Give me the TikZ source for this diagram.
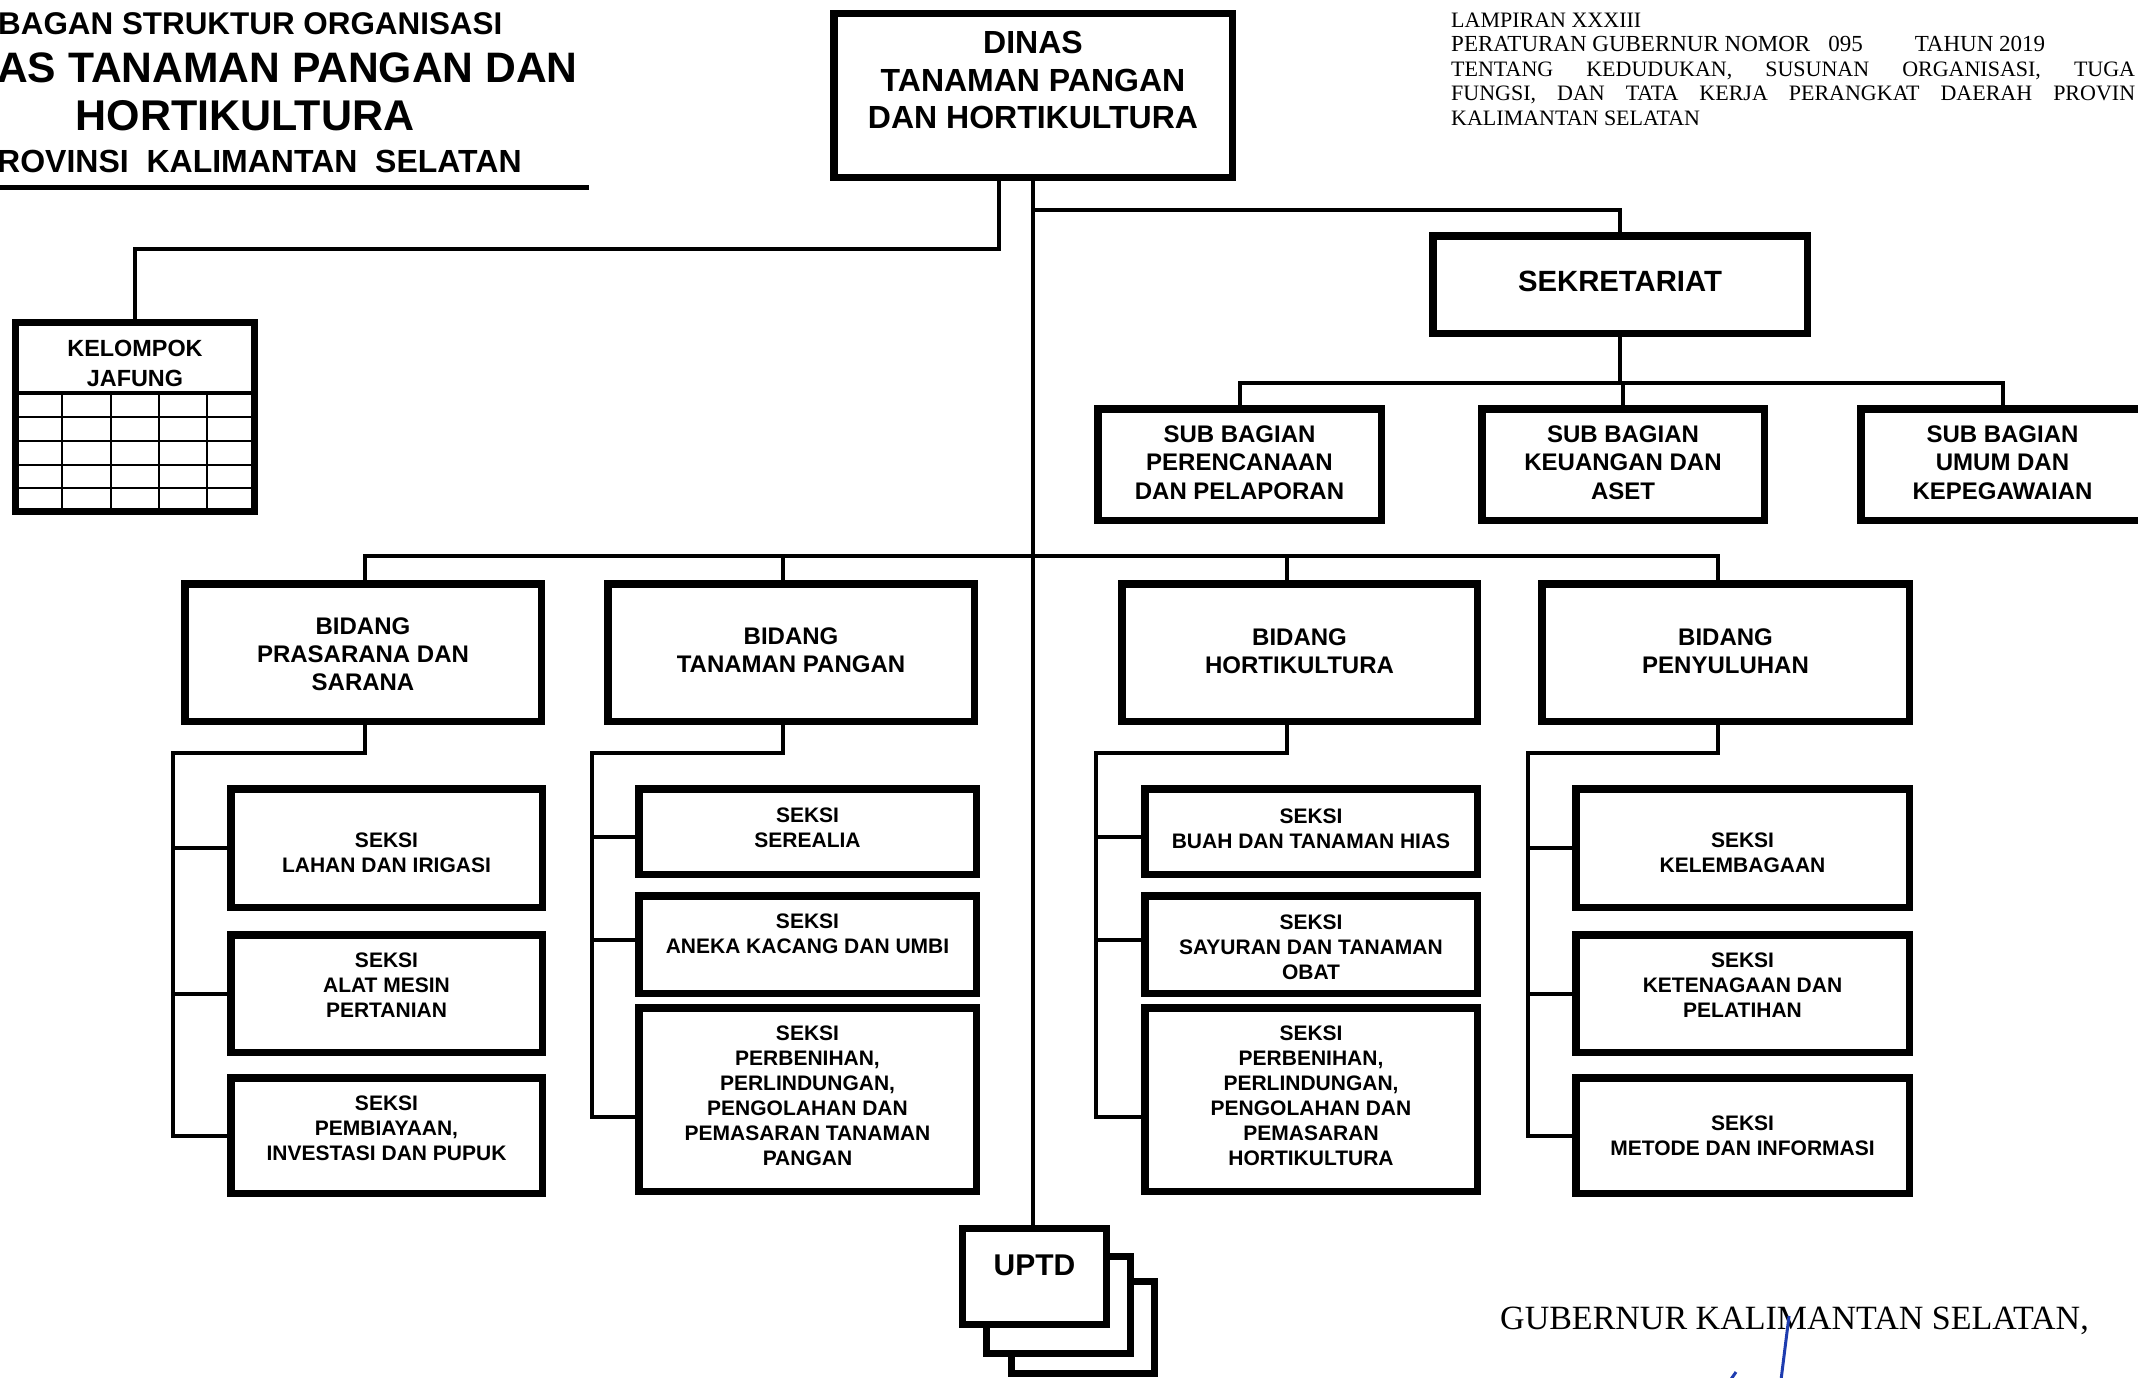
\documentclass[tikz,border=0pt]{standalone}
\usepackage{fontspec}
\setmainfont{Liberation Sans}
\newfontfamily\lampserif{Liberation Serif}
% #1 style, #2 name, #3 x1, #4 y1, #5 x2, #6 y2, #7 text, #8 text shift (down)
\newcommand{\orgbox}[8][]{%
  \pgfmathsetmacro\obcx{(#3+#5)/2}%
  \pgfmathsetmacro\obcy{(#4+#6)/2}%
  \pgfmathsetmacro\obty{(#4+#6)/2+#8}%
  \pgfmathsetmacro\obw{#5-#3-7.5}%
  \pgfmathsetmacro\obh{#6-#4-7.5}%
  \node[orgbox,#1,minimum width=\obw pt,minimum height=\obh pt] (#2) at (\obcx,\obcy) {};
  \node[boxtext,#1] (#2-t) at (\obcx,\obty) {#7};}
\begin{document}
\begin{tikzpicture}[x=1pt,y=-1pt,
  orgbox/.style={draw, line width=7.5pt, fill=white, inner sep=0pt},
  boxtext/.style={inner sep=0pt, align=center, font=\bfseries\fontsize{21}{25}\selectfont},
  bidang/.style={font=\bfseries\fontsize{24}{28}\selectfont},
  subbag/.style={font=\bfseries\fontsize{24}{28.5}\selectfont},
  sekrfont/.style={font=\bfseries\fontsize{29.3}{34}\selectfont},
  conn/.style={line width=4pt, line join=miter},
  grid/.style={line width=2pt},
  lamp/.style={inner sep=0pt, anchor=base west, font=\lampserif\fontsize{22}{25}\selectfont},
]
\useasboundingbox (0,0) rectangle (2138,1378);
\clip (0,0) rectangle (2138,1378);

% ---------- title ----------
\node[inner sep=0pt, anchor=base west, font=\bfseries\fontsize{31.4}{36}\selectfont] (t1) at (-2,35) {BAGAN STRUKTUR ORGANISASI};
\node[inner sep=0pt, anchor=base west, font=\bfseries\fontsize{42.6}{48}\selectfont] (t2) at (-3,83) {AS TANAMAN PANGAN DAN};
\node[inner sep=0pt, anchor=base, font=\bfseries\fontsize{43}{48}\selectfont] (t3) at (245,131) {HORTIKULTURA};
\node[inner sep=0pt, anchor=base west, font=\bfseries\fontsize{32}{36}\selectfont] (t4) at (-3,172) {ROVINSI\ \ KALIMANTAN\ \ SELATAN};
\draw[line width=5pt] (0,187) -- (589,187);

% ---------- lampiran text ----------
\node[lamp] (l1) at (1451,27.5) {LAMPIRAN XXXIII};
\node[lamp, font=\lampserif\fontsize{23}{25}\selectfont] (l2) at (1451,52) {PERATURAN GUBERNUR NOMOR\hspace{18pt}095\hspace{52pt}TAHUN 2019};
\node[lamp] (l3) at (1451,76.5) {\makebox[684pt][s]{TENTANG KEDUDUKAN, SUSUNAN ORGANISASI, TUGA}};
\node[lamp] (l4) at (1451,101) {\makebox[684pt][s]{FUNGSI, DAN TATA KERJA PERANGKAT DAERAH PROVIN}};
\node[lamp] (l5) at (1451,125.5) {KALIMANTAN SELATAN};
\node[lamp, font=\lampserif\fontsize{34}{38}\selectfont] (gub) at (1500,1329) {GUBERNUR KALIMANTAN SELATAN,};
\draw[line width=3pt, color={rgb,255:red,30;green,60;blue,175}] (1789,1316) -- (1781,1380);
\draw[line width=3pt, color={rgb,255:red,30;green,60;blue,175}] (1729,1382) -- (1736,1372);

% ---------- boxes ----------
\orgbox[font=\bfseries\fontsize{32}{37.5}\selectfont]{dinas}{830}{10}{1236}{181}{DINAS\\TANAMAN PANGAN\\DAN HORTIKULTURA}{-15.5}

\orgbox[sekrfont]{sekr}{1429}{232}{1811}{337}{SEKRETARIAT}{-3}
\orgbox[subbag]{sub1}{1094}{405}{1385}{524}{SUB BAGIAN\\PERENCANAAN\\DAN PELAPORAN}{-2}
\orgbox[subbag]{sub2}{1478}{405}{1768}{524}{SUB BAGIAN\\KEUANGAN DAN\\ASET}{-2}
\orgbox[subbag]{sub3}{1857}{405}{2148}{524}{SUB BAGIAN\\UMUM DAN\\KEPEGAWAIAN}{-2}

\orgbox[bidang]{b1}{181}{580}{545}{725}{BIDANG\\PRASARANA DAN\\SARANA}{2}
\orgbox[bidang]{b2}{604}{580}{978}{725}{BIDANG\\TANAMAN PANGAN}{-2}
\orgbox[bidang]{b3}{1118}{580}{1481}{725}{BIDANG\\HORTIKULTURA}{-1}
\orgbox[bidang]{b4}{1538}{580}{1913}{725}{BIDANG\\PENYULUHAN}{-1}

\orgbox{s1a}{227}{785}{546}{911}{SEKSI\\LAHAN DAN IRIGASI}{5}
\orgbox{s1b}{227}{931}{546}{1056}{SEKSI\\ALAT MESIN\\PERTANIAN}{-8}
\orgbox{s1c}{227}{1074}{546}{1197}{SEKSI\\PEMBIAYAAN,\\INVESTASI DAN PUPUK}{-7}

\orgbox{s2a}{635}{785}{980}{878}{SEKSI\\SEREALIA}{-4}
\orgbox{s2b}{635}{892}{980}{997}{SEKSI\\ANEKA KACANG DAN UMBI}{-11}
\orgbox{s2c}{635}{1004}{980}{1195}{SEKSI\\PERBENIHAN,\\PERLINDUNGAN,\\PENGOLAHAN DAN\\PEMASARAN TANAMAN\\PANGAN}{-4}

\orgbox{s3a}{1141}{785}{1481}{878}{SEKSI\\BUAH DAN TANAMAN HIAS}{-3}
\orgbox{s3b}{1141}{892}{1481}{997}{SEKSI\\SAYURAN DAN TANAMAN\\OBAT}{3}
\orgbox{s3c}{1141}{1004}{1481}{1195}{SEKSI\\PERBENIHAN,\\PERLINDUNGAN,\\PENGOLAHAN DAN\\PEMASARAN\\HORTIKULTURA}{-4}

\orgbox{s4a}{1572}{785}{1913}{911}{SEKSI\\KELEMBAGAAN}{5}
\orgbox{s4b}{1572}{931}{1913}{1056}{SEKSI\\KETENAGAAN DAN\\PELATIHAN}{-8}
\orgbox{s4c}{1572}{1074}{1913}{1197}{SEKSI\\METODE DAN INFORMASI}{0}

% UPTD stack
\orgbox[line width=7pt]{uptd3}{1008}{1278}{1158}{1377}{}{0}
\orgbox[line width=7pt]{uptd2}{983}{1253}{1134}{1357}{}{0}
\orgbox[line width=7pt, font=\bfseries\fontsize{30}{36}\selectfont]{uptd1}{959}{1225}{1110}{1328}{UPTD}{-11.5}

% Kelompok jafung
\orgbox[line width=7pt, font=\bfseries\fontsize{23.4}{30}\selectfont]{jafung}{12}{319}{258}{515}{KELOMPOK\\JAFUNG}{-54}
\draw[line width=4pt] (15.5,392.5) -- (254.5,392.5);
\foreach \gx in {62,111,159,207} \draw[grid] (\gx,394) -- (\gx,512);
\foreach \gy in {416.7,440.7,465,488.3} \draw[grid] (15.5,\gy) -- (254.5,\gy);

% ---------- connectors ----------
\coordinate (jbend) at (999,249);
\draw[conn] (jbend |- dinas.south) -- (jbend) -| (jafung.north);
\draw[conn] (dinas.south) -- (dinas.south |- uptd1.north);
\coordinate (sbend) at (1033,210);
\draw[conn] (sbend) -| (sekr.north);
\coordinate (subbus) at (1623,383);
\draw[conn] (sekr.south) -- (sekr.south |- subbus);
\draw[conn] (sub1.north) -- (sub1.north |- subbus) -- (sub3.north |- subbus) -- (sub3.north);
\draw[conn] (sub2.north |- subbus) -- (sub2.north);

\coordinate (d1) at (365,556);
\coordinate (d2) at (783,556);
\coordinate (d3) at (1287,556);
\coordinate (d4) at (1718,556);
\draw[conn] (d1 |- b1.north) -- (d1) -- (d4) -- (d4 |- b4.north);
\draw[conn] (d2) -- (d2 |- b2.north);
\draw[conn] (d3) -- (d3 |- b3.north);

\coordinate (k1) at (173,753);
\coordinate (k2) at (592,753);
\coordinate (k3) at (1096,753);
\coordinate (k4) at (1528,753);

\coordinate (c2a) at ([yshift=-5.5pt]s2a.west);
\coordinate (c2b) at ([yshift=4.5pt]s2b.west);
\coordinate (c2c) at ([yshift=-17.5pt]s2c.west);
\coordinate (c3a) at ([yshift=-5.5pt]s3a.west);
\coordinate (c3b) at ([yshift=4.5pt]s3b.west);
\coordinate (c3c) at ([yshift=-17.5pt]s3c.west);

\draw[conn] (d1 |- b1.south) -- (d1 |- k1) -- (k1) |- (s1c.west);
\draw[conn] (k1 |- s1a.west) -- (s1a.west);
\draw[conn] (k1 |- s1b.west) -- (s1b.west);

\draw[conn] (d2 |- b2.south) -- (d2 |- k2) -- (k2) |- (c2c);
\draw[conn] (k2 |- c2a) -- (c2a);
\draw[conn] (k2 |- c2b) -- (c2b);

\draw[conn] (d3 |- b3.south) -- (d3 |- k3) -- (k3) |- (c3c);
\draw[conn] (k3 |- c3a) -- (c3a);
\draw[conn] (k3 |- c3b) -- (c3b);

\draw[conn] (d4 |- b4.south) -- (d4 |- k4) -- (k4) |- (s4c.west);
\draw[conn] (k4 |- s4a.west) -- (s4a.west);
\draw[conn] (k4 |- s4b.west) -- (s4b.west);
\end{tikzpicture}
\end{document}
